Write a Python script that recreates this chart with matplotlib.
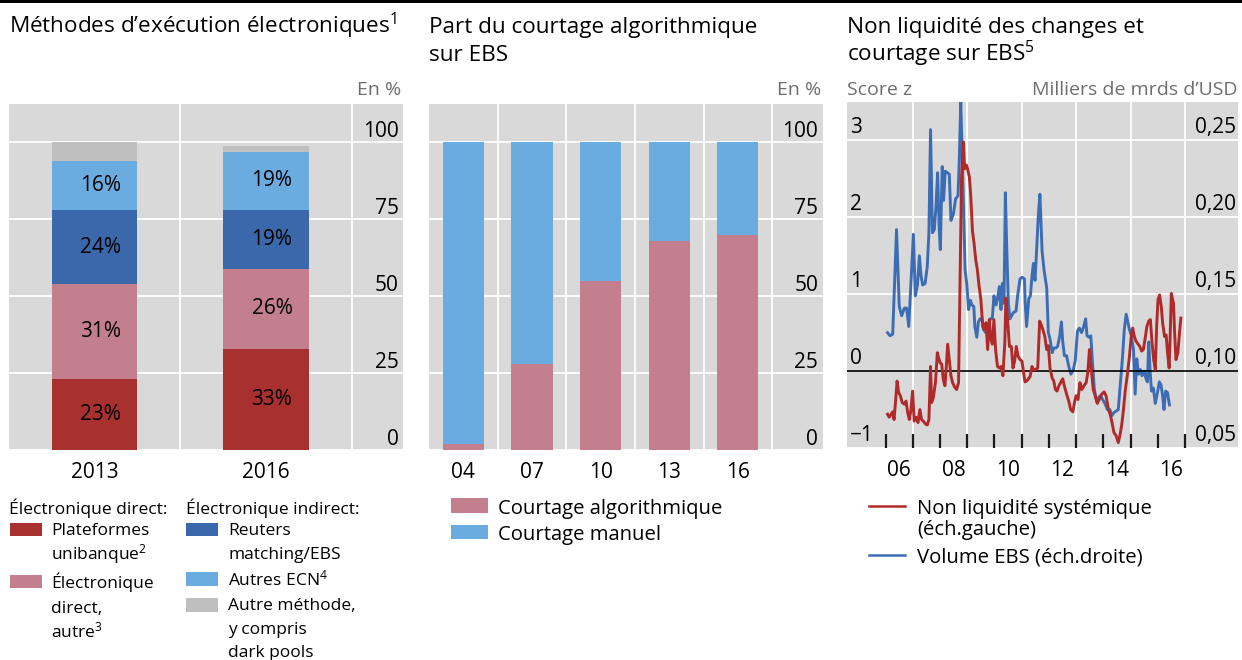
import matplotlib
matplotlib.use('Agg')
import matplotlib.pyplot as plt
from matplotlib.patches import Rectangle
from matplotlib.lines import Line2D
from matplotlib.transforms import offset_copy
import numpy as np

plt.rcParams['font.family'] = ['Open Sans', 'DejaVu Sans']
plt.rcParams['mathtext.fontset'] = 'custom'
plt.rcParams['mathtext.rm'] = 'Open Sans'
plt.rcParams['mathtext.it'] = 'Open Sans'
plt.rcParams['mathtext.bf'] = 'Open Sans'

# --- data: panel 1 (electronic execution methods, %)
method_years = ['2013', '2016']
direct_single = [23, 33]
direct_other = [31, 26]
reuters_ebs = [24, 19]
other_ecn = [16, 19]
other_method = [6, 2]

# --- data: panel 2 (share of algorithmic trading on EBS, %)
algo_years = ['04', '07', '10', '13', '16']
algo_share = [2, 28, 55, 68, 70]
manual_share = [98, 72, 45, 32, 30]

# --- data: panel 3 (EBS volume, thousands of bn USD, right scale)
ebs_years = [2006.07, 2006.16, 2006.26, 2006.40, 2006.50, 2006.59, 2006.69, 2006.77, 2006.85, 2006.93,
             2007.02, 2007.09, 2007.17, 2007.24, 2007.30, 2007.36, 2007.45, 2007.53, 2007.59, 2007.65,
             2007.72, 2007.79, 2007.85, 2007.91, 2007.97, 2008.01, 2008.08, 2008.13, 2008.19, 2008.27,
             2008.34, 2008.40, 2008.49, 2008.57, 2008.66, 2008.71, 2008.76, 2008.81, 2008.87, 2008.92,
             2008.98, 2009.05, 2009.11, 2009.17, 2009.24, 2009.28, 2009.35, 2009.41, 2009.47, 2009.54,
             2009.60, 2009.68, 2009.75, 2009.84, 2009.92, 2009.98, 2010.06, 2010.12, 2010.18, 2010.24,
             2010.29, 2010.35, 2010.40, 2010.45, 2010.51, 2010.57, 2010.63, 2010.69, 2010.79, 2010.85,
             2010.94, 2011.02, 2011.10, 2011.13, 2011.18, 2011.26, 2011.32, 2011.38, 2011.43, 2011.49,
             2011.55, 2011.61, 2011.67, 2011.75, 2011.82, 2011.92, 2011.98, 2012.04, 2012.12, 2012.18,
             2012.25, 2012.32, 2012.40, 2012.46, 2012.51, 2012.57, 2012.65, 2012.73, 2012.81, 2012.90,
             2012.97, 2013.05, 2013.12, 2013.20, 2013.28, 2013.35, 2013.40, 2013.49, 2013.54, 2013.60,
             2013.67, 2013.76, 2013.83, 2013.90, 2013.99, 2014.06, 2014.15, 2014.24, 2014.31, 2014.39,
             2014.47, 2014.55, 2014.64, 2014.71, 2014.77, 2014.84, 2014.90, 2014.96, 2015.03, 2015.11,
             2015.17, 2015.23, 2015.29, 2015.36, 2015.42, 2015.50, 2015.57, 2015.62, 2015.67, 2015.72,
             2015.77, 2015.84, 2015.91, 2015.99, 2016.06, 2016.12, 2016.18, 2016.23, 2016.29, 2016.36,
             2016.43]
ebs_volume = [0.125, 0.123, 0.124, 0.192, 0.142, 0.136, 0.141, 0.141, 0.129, 0.157,
              0.189, 0.149, 0.156, 0.175, 0.162, 0.156, 0.157, 0.168, 0.190, 0.257,
              0.190, 0.192, 0.207, 0.229, 0.192, 0.179, 0.233, 0.211, 0.230, 0.229,
              0.228, 0.198, 0.202, 0.212, 0.214, 0.239, 0.275, 0.244, 0.201, 0.166,
              0.157, 0.140, 0.146, 0.143, 0.142, 0.129, 0.122, 0.132, 0.134, 0.134,
              0.127, 0.125, 0.127, 0.134, 0.134, 0.149, 0.143, 0.148, 0.155, 0.140,
              0.157, 0.144, 0.216, 0.181, 0.144, 0.134, 0.136, 0.138, 0.139, 0.149,
              0.160, 0.161, 0.160, 0.144, 0.129, 0.147, 0.149, 0.162, 0.170, 0.159,
              0.179, 0.201, 0.215, 0.178, 0.166, 0.154, 0.125, 0.121, 0.112, 0.115,
              0.115, 0.116, 0.123, 0.132, 0.119, 0.110, 0.110, 0.103, 0.098, 0.101,
              0.107, 0.126, 0.128, 0.125, 0.129, 0.134, 0.123, 0.122, 0.123, 0.106,
              0.088, 0.080, 0.083, 0.084, 0.081, 0.079, 0.075, 0.075, 0.071, 0.073,
              0.074, 0.075, 0.095, 0.110, 0.127, 0.137, 0.132, 0.127, 0.123, 0.114,
              0.085, 0.108, 0.098, 0.101, 0.097, 0.100, 0.095, 0.093, 0.119, 0.100,
              0.087, 0.089, 0.079, 0.086, 0.093, 0.091, 0.084, 0.075, 0.087, 0.086,
              0.078]

# --- data: panel 3 (systemic illiquidity, z-score, left scale)
illiq_years = [2006.07, 2006.13, 2006.20, 2006.26, 2006.31, 2006.37, 2006.42, 2006.48, 2006.54, 2006.61,
               2006.69, 2006.75, 2006.81, 2006.87, 2006.93, 2006.99, 2007.05, 2007.12, 2007.19, 2007.26,
               2007.32, 2007.38, 2007.47, 2007.53, 2007.59, 2007.65, 2007.69, 2007.75, 2007.83, 2007.90,
               2007.95, 2008.00, 2008.06, 2008.12, 2008.18, 2008.23, 2008.28, 2008.34, 2008.40, 2008.46,
               2008.54, 2008.61, 2008.68, 2008.73, 2008.79, 2008.86, 2008.90, 2008.97, 2009.01, 2009.08,
               2009.13, 2009.19, 2009.25, 2009.31, 2009.37, 2009.43, 2009.50, 2009.57, 2009.63, 2009.69,
               2009.75, 2009.81, 2009.86, 2009.92, 2009.98, 2010.04, 2010.11, 2010.18, 2010.24, 2010.31,
               2010.38, 2010.42, 2010.49, 2010.55, 2010.62, 2010.68, 2010.74, 2010.80, 2010.87, 2010.94,
               2011.01, 2011.06, 2011.12, 2011.18, 2011.25, 2011.31, 2011.38, 2011.43, 2011.50, 2011.59,
               2011.66, 2011.72, 2011.78, 2011.85, 2011.92, 2011.98, 2012.04, 2012.12, 2012.18, 2012.24,
               2012.30, 2012.37, 2012.43, 2012.51, 2012.58, 2012.65, 2012.73, 2012.80, 2012.88, 2012.94,
               2013.00, 2013.07, 2013.14, 2013.21, 2013.29, 2013.37, 2013.43, 2013.49, 2013.55, 2013.63,
               2013.70, 2013.78, 2013.86, 2013.94, 2014.03, 2014.10, 2014.19, 2014.25, 2014.32, 2014.39,
               2014.47, 2014.55, 2014.62, 2014.68, 2014.74, 2014.81, 2014.88, 2014.96, 2015.02, 2015.08,
               2015.14, 2015.20, 2015.28, 2015.34, 2015.41, 2015.47, 2015.54, 2015.60, 2015.67, 2015.73,
               2015.79, 2015.85, 2015.91, 2015.96, 2016.01, 2016.07, 2016.13, 2016.18, 2016.25, 2016.31,
               2016.36, 2016.42, 2016.45, 2016.50, 2016.58, 2016.62, 2016.67, 2016.74, 2016.80, 2016.85]
illiq_z = [-0.56, -0.60, -0.56, -0.53, -0.63, -0.37, -0.13, -0.28, -0.32, -0.41,
           -0.43, -0.39, -0.54, -0.63, -0.50, -0.26, -0.65, -0.60, -0.67, -0.50,
           -0.63, -0.65, -0.69, -0.70, -0.63, 0.06, -0.41, -0.35, -0.15, 0.24,
           0.17, 0.11, 0.09, -0.11, -0.19, 0.06, 0.35, 0.15, -0.06, -0.15,
           -0.21, -0.24, -0.15, 1.06, 2.52, 2.98, 2.63, 2.68, 2.63, 2.52,
           2.27, 1.83, 1.66, 1.45, 1.32, 1.12, 0.93, 0.58, 0.54, 0.63,
           0.28, 0.67, 0.43, 0.35, 0.67, 0.28, 0.06, 0.04, 0.06, -0.06,
           0.37, 0.95, 0.63, 0.32, 0.32, 0.04, 0.13, 0.32, 0.19, 0.15,
           0.13, 0.01, -0.14, -0.13, -0.10, -0.07, 0.06, 0.02, 0.02, 0.04,
           0.65, 0.60, 0.54, 0.45, 0.28, 0.33, 0.04, -0.09, -0.13, -0.24,
           -0.26, -0.19, -0.15, -0.10, -0.21, -0.30, -0.39, -0.50, -0.53, -0.41,
           -0.32, -0.37, -0.15, -0.24, -0.19, -0.15, -0.02, 0.28, 0.06, -0.24,
           -0.32, -0.42, -0.36, -0.30, -0.27, -0.32, -0.50, -0.56, -0.67, -0.80,
           -0.84, -0.93, -0.82, -0.69, -0.50, -0.24, -0.06, 0.19, 0.43, 0.56,
           0.45, 0.39, 0.35, 0.32, 0.26, 0.28, 0.43, 0.58, 0.65, 0.67,
           0.37, 0.15, 0.02, 0.58, 0.93, 0.99, 0.84, 0.63, 0.45, 0.47,
           0.24, 0.04, 0.37, 1.01, 0.88, 0.50, 0.15, 0.24, 0.50, 0.69]

z_ticks = [-1, 0, 1, 2, 3]
z_labels = ['\u22121', '0', '1', '2', '3']
vol_labels = ['0,05', '0,10', '0,15', '0,20', '0,25']
year_ticks = list(range(2006, 2018))
year_labels = ['06', '08', '10', '12', '14', '16']
pct_ticks = [0, 25, 50, 75, 100]

# --- style
W, H = 1242, 660
BG = '#d9d9d9'
RED = '#a8302e'
PINK = '#c47f8e'
DBLUE = '#3a68aa'
LBLUE = '#6aabe0'
GREY = '#bfbfbf'
LRED = '#b02a2a'
LBLUE_LINE = '#3c6db4'
TXT_GREY = '#6e6e6e'
FS = 15
FS_TITLE = 16.2
FS_UNIT = 14
FS_LEG = 12.5
FS_LEG2 = 14.6


def rect(l, t, r, b):
    return [l / W, 1 - b / H, (r - l) / W, (b - t) / H]


def ftext(x, y, s, **kw):
    kw.setdefault('fontsize', FS)
    kw.setdefault('va', 'baseline')
    fig.text(x / W, 1 - y / H, s, **kw)


def fpatch(l, t, r, b, color):
    fig.add_artist(Rectangle((l / W, 1 - b / H), (r - l) / W, (b - t) / H,
                             transform=fig.transFigure, color=color, lw=0))


def fline(l, r, y, color):
    fig.add_artist(Line2D([l / W, r / W], [1 - y / H, 1 - y / H],
                          transform=fig.transFigure, color=color, lw=1.8))


def base_axes(ax):
    ax.set_facecolor(BG)
    for s in ax.spines.values():
        s.set_visible(False)
    ax.tick_params(axis='y', left=False, right=False, labelleft=False, labelright=False)


fig = plt.figure(figsize=(W / 100, H / 100), dpi=100)
fig.add_artist(Rectangle((0, 1 - 3 / H), 1, 3 / H, transform=fig.transFigure, color='black', lw=0))

# ---------------- panel 1
ax1 = fig.add_axes(rect(9, 104, 403, 450))
base_axes(ax1)
x1 = np.arange(len(method_years))
stack = [(direct_single, RED), (direct_other, PINK), (reuters_ebs, DBLUE),
         (other_ecn, LBLUE), (other_method, GREY)]
bottom = np.zeros(len(method_years))
for k, (vals, col) in enumerate(stack):
    ax1.bar(x1, vals, 0.5, bottom=bottom, color=col, zorder=3, lw=0)
    if k < 4:
        for xi, b, v in zip(x1, bottom, vals):
            ax1.text(xi + 0.035, b + v / 2, f'{v}%', ha='center', va='center',
                     fontsize=FS, zorder=4)
    bottom = bottom + np.array(vals)
ax1.set_xlim(-0.5, 1.8)
ax1.set_ylim(0, 112.5)
for v in pct_ticks:
    ax1.axhline(v, color='white', lw=1.3, zorder=1)
for v in [0.5, 1.5]:
    ax1.axvline(v, color='white', lw=1.3, zorder=1)
tr1 = offset_copy(ax1.get_yaxis_transform(), fig=fig, x=-4, y=5, units='dots')
for v in pct_ticks:
    ax1.text(1, v, str(v), transform=tr1, ha='right', va='baseline', fontsize=FS)
ax1.set_xticks(x1)
ax1.set_xticklabels(method_years, fontsize=FS)
ax1.tick_params(axis='x', length=0, pad=9)

# ---------------- panel 2
ax2 = fig.add_axes(rect(429, 104, 823, 450))
base_axes(ax2)
x2 = np.arange(len(algo_years))
ax2.bar(x2, algo_share, 0.6, color=PINK, zorder=3, lw=0)
ax2.bar(x2, manual_share, 0.6, bottom=algo_share, color=LBLUE, zorder=3, lw=0)
ax2.set_xlim(-0.5, 5.24)
ax2.set_ylim(0, 112.5)
for v in pct_ticks:
    ax2.axhline(v, color='white', lw=1.3, zorder=1)
for v in np.arange(0.5, 5, 1):
    ax2.axvline(v, color='white', lw=1.3, zorder=1)
tr2 = offset_copy(ax2.get_yaxis_transform(), fig=fig, x=-5, y=5, units='dots')
for v in pct_ticks:
    ax2.text(1, v, str(v), transform=tr2, ha='right', va='baseline', fontsize=FS)
ax2.set_xticks(x2)
ax2.set_xticklabels(algo_years, fontsize=FS)
ax2.tick_params(axis='x', length=0, pad=9)

# ---------------- panel 3
ax3 = fig.add_axes(rect(847, 102, 1238, 448))
ax3.set_facecolor(BG)
for s in ax3.spines.values():
    s.set_visible(False)
ax3.set_xlim(2004.58, 2018.95)
ax3.set_ylim(0.05, 0.275)
ax3.plot(ebs_years, ebs_volume, color=LBLUE_LINE, lw=2.1, zorder=3)
for v in [0.05, 0.15, 0.20, 0.25]:
    ax3.axhline(v, color='white', lw=1.3, zorder=1)
for v in range(2007, 2018, 2):
    ax3.axvline(v, color='white', lw=1.3, zorder=1)
ax3.set_xticks(year_ticks)
ax3.set_xticklabels([])
ax3.tick_params(axis='x', which='major', direction='in', length=10, width=1.6,
                color='#1a1a1a', bottom=True, top=False)
ax3.set_xticks([int('20' + s) + 0.5 for s in year_labels], minor=True)
ax3.set_xticklabels(year_labels, minor=True, fontsize=FS)
ax3.tick_params(axis='x', which='minor', length=0, pad=9)

ax3b = ax3.twinx()
for s in ax3b.spines.values():
    s.set_visible(False)
ax3b.set_ylim(-1, 3.5)
ax3b.axhline(0, color='black', lw=1.2, zorder=2)
ax3b.plot(illiq_years, illiq_z, color=LRED, lw=2.1, zorder=3)
for a in (ax3, ax3b):
    a.tick_params(axis='y', left=False, right=False, labelleft=False, labelright=False)
trl = offset_copy(ax3b.get_yaxis_transform(), fig=fig, x=3, y=7, units='dots')
trr = offset_copy(ax3b.get_yaxis_transform(), fig=fig, x=-2, y=7, units='dots')
for v, ll, rl in zip(z_ticks, z_labels, vol_labels):
    ax3b.text(0, v, ll, transform=trl, ha='left', va='baseline', fontsize=FS)
    ax3b.text(1, v, rl, transform=trr, ha='right', va='baseline', fontsize=FS)

# ---------------- titles and unit labels
ftext(9, 33, 'Méthodes d’exécution électroniques$^{1}$', fontsize=FS_TITLE)
ftext(429, 33, 'Part du courtage algorithmique', fontsize=FS_TITLE)
ftext(429, 61, 'sur EBS', fontsize=FS_TITLE)
ftext(847, 33, 'Non liquidité des changes et', fontsize=FS_TITLE)
ftext(847, 61, 'courtage sur EBS$^{5}$', fontsize=FS_TITLE)
ftext(401, 95, 'En %', ha='right', color=TXT_GREY, fontsize=FS_UNIT)
ftext(821, 95, 'En %', ha='right', color=TXT_GREY, fontsize=FS_UNIT)
ftext(847, 95, 'Score z', color=TXT_GREY, fontsize=FS_UNIT)
ftext(1238, 95, 'Milliers de mrds d’USD', ha='right', color=TXT_GREY, fontsize=FS_UNIT)

# ---------------- legend panel 1
ftext(9, 514, 'Électronique direct:', fontsize=FS_LEG)
fpatch(10, 523, 42, 536, RED)
ftext(51, 535, 'Plateformes', fontsize=FS_LEG)
ftext(51, 559, 'unibanque$^{2}$', fontsize=FS_LEG)
fpatch(10, 575, 42, 588, PINK)
ftext(51, 588, 'Électronique', fontsize=FS_LEG)
ftext(51, 613, 'direct,', fontsize=FS_LEG)
ftext(51, 637, 'autre$^{3}$', fontsize=FS_LEG)
ftext(186, 514, 'Électronique indirect:', fontsize=FS_LEG)
fpatch(186, 523, 218, 536, DBLUE)
ftext(228, 535, 'Reuters', fontsize=FS_LEG)
ftext(228, 559, 'matching/EBS', fontsize=FS_LEG)
fpatch(186, 572, 218, 586, LBLUE)
ftext(228, 585, 'Autres ECN$^{4}$', fontsize=FS_LEG)
fpatch(186, 598, 218, 612, GREY)
ftext(228, 610, 'Autre méthode,', fontsize=FS_LEG)
ftext(228, 634, 'y compris', fontsize=FS_LEG)
ftext(228, 657, 'dark pools', fontsize=FS_LEG)

# ---------------- legend panel 2
fpatch(451, 498, 488, 513, PINK)
ftext(498, 514, 'Courtage algorithmique', fontsize=FS_LEG2)
fpatch(451, 525, 488, 539, LBLUE)
ftext(498, 540, 'Courtage manuel', fontsize=FS_LEG2)

# ---------------- legend panel 3
fline(869, 905, 506, LRED)
ftext(917, 514, 'Non liquidité systémique', fontsize=FS_LEG2)
ftext(917, 535, '(éch.gauche)', fontsize=FS_LEG2)
fline(869, 905, 555, LBLUE_LINE)
ftext(917, 563, 'Volume EBS (éch.droite)', fontsize=FS_LEG2)

fig.savefig('out.png', dpi=100)
